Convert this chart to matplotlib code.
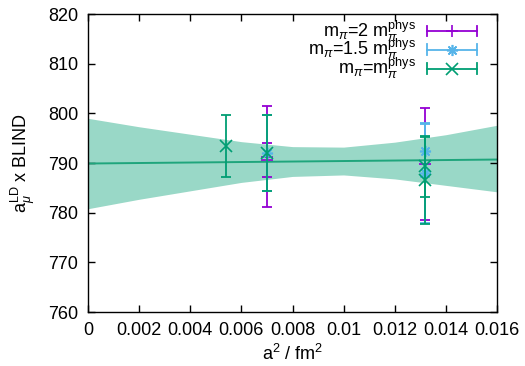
import numpy as np
import matplotlib
matplotlib.use("Agg")
import matplotlib.pyplot as plt

plt.rcParams['font.family'] = ['Liberation Sans', 'DejaVu Sans']
plt.rcParams['mathtext.fontset'] = 'custom'
plt.rcParams['mathtext.rm'] = 'Liberation Sans'
plt.rcParams['mathtext.it'] = 'Liberation Sans:italic'
plt.rcParams['mathtext.sf'] = 'Liberation Sans'

# lattice spacing squared (fm^2) and a_mu^LD values with errors
a2_m2 = [0.007, 0.007, 0.0132]
y_m2 = [791.3, 790.6, 789.8]
e_m2 = [10.1, 3.5, 11.2]

a2_m15 = [0.007, 0.0132, 0.0132]
y_m15 = [792.0, 792.5, 788.0]
e_m15 = [7.6, 5.3, 10.0]

a2_m1 = [0.0054, 0.007, 0.0132, 0.0132]
y_m1 = [793.4, 792.0, 789.3, 786.5]
e_m1 = [6.3, 7.6, 6.1, 8.8]

# continuum fit: central line and error band
fit_x = [0.0, 0.002, 0.004, 0.006, 0.008, 0.010, 0.012, 0.014, 0.016]
fit_c = [789.9, 790.0, 790.1, 790.2, 790.3, 790.4, 790.5, 790.6, 790.7]
fit_lo = [780.8, 782.7, 784.4, 786.1, 787.3, 787.6, 786.8, 785.5, 784.2]
fit_hi = [799.0, 797.3, 795.8, 794.3, 793.3, 793.2, 794.2, 795.7, 797.6]

labels = [r'm$_{\pi}$=2 m$_{\pi}^{\mathrm{phys}}$',
          r'm$_{\pi}$=1.5 m$_{\pi}^{\mathrm{phys}}$',
          r'm$_{\pi}$=m$_{\pi}^{\mathrm{phys}}$']
colors = ['#9400D3', '#56B4E9', '#009E73']
star = (8, 2, 0)
markers = ['+', star, 'x']

fig = plt.figure(figsize=(5.25, 3.66), dpi=100)
ax = fig.add_axes([0.1676, 0.1475, 0.7791, 0.8142])

ax.fill_between(fit_x, fit_lo, fit_hi, color='#009E73', alpha=0.4, lw=0, zorder=1)
ax.plot(fit_x, fit_c, color='#1fa57c', lw=1.4, zorder=2)

series = [(a2_m2, y_m2, e_m2), (a2_m15, y_m15, e_m15), (a2_m1, y_m1, e_m1)]
for (xs, ys, es), c, m in zip(series, colors, markers):
    ax.errorbar(xs, ys, yerr=es, fmt='none', ecolor=c,
                elinewidth=1.3, capsize=3.5, capthick=1.3, zorder=3)
    ax.plot(xs, ys, ls='none', marker=m, color=c, ms=8, mew=1.2, zorder=3)

ax.set_xlim(0, 0.016)
ax.set_ylim(760, 820)
ax.set_xticks(np.arange(0, 0.0161, 0.002))
ax.set_xticklabels(['0', '0.002', '0.004', '0.006', '0.008', '0.01',
                    '0.012', '0.014', '0.016'])
ax.set_yticks(np.arange(760, 821, 10))
ax.tick_params(direction='in', length=5, width=1, top=True, right=True,
               labelsize=13, pad=7)
for s in ax.spines.values():
    s.set_linewidth(1)

ax.set_xlabel(r'a$^{2}$ / fm$^{2}$', fontsize=13, labelpad=4)
ax.set_ylabel(r'a$_{\mu}^{\mathrm{LD}}$ x BLIND', fontsize=13, labelpad=8)

# key in gnuplot style: label, then horizontal error-bar sample with marker
rows_y = [0.943, 0.880, 0.816]
x0, x1, xm, xt = 0.829, 0.951, 0.890, 0.802
cap = 0.018
for lab, c, m, yy in zip(labels, colors, markers, rows_y):
    ax.text(xt, yy, lab, transform=ax.transAxes, ha='right', va='center',
            fontsize=13)
    ax.plot([x0, x1], [yy, yy], color=c, lw=1.3, transform=ax.transAxes,
            clip_on=False)
    for xe in (x0, x1):
        ax.plot([xe, xe], [yy - cap, yy + cap], color=c, lw=1.3,
                transform=ax.transAxes, clip_on=False)
    ax.plot([xm], [yy], marker=m, color=c, ms=8, mew=1.2,
            transform=ax.transAxes, clip_on=False)

fig.savefig('out.png', dpi=100)
